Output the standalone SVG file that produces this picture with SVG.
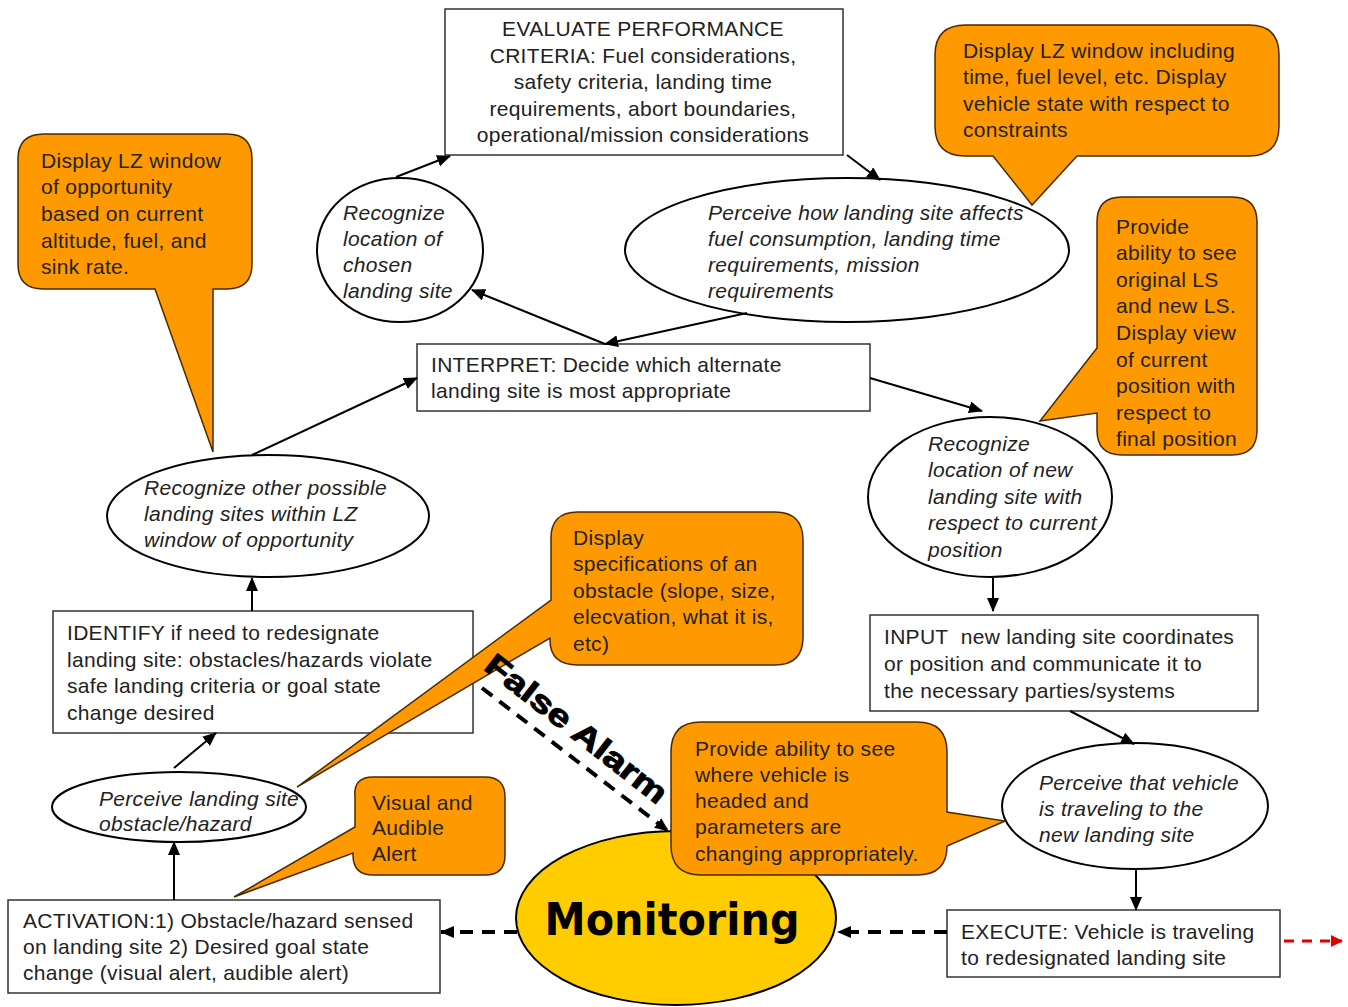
<svg xmlns="http://www.w3.org/2000/svg" width="1348" height="1007" viewBox="0 0 1348 1007">
<defs>
<style>
.t{font-family:"Liberation Sans",Arial,sans-serif;font-size:21px;letter-spacing:0.3px;fill:#222}
.i{font-style:italic}
.box{fill:#fff;stroke:#333;stroke-width:1.5}
.ell{fill:#fff;stroke:#000;stroke-width:2}
.call{fill:#FF9900;stroke:#4a2a00;stroke-width:1.5}
.ln{stroke:#000;stroke-width:2;fill:none}
.dash{stroke:#000;stroke-width:4;stroke-dasharray:13 9;fill:none}
.rdash{stroke:#e00000;stroke-width:3;stroke-dasharray:10 8;fill:none}
</style>
<marker id="ah" markerWidth="14" markerHeight="12" refX="13" refY="6" orient="auto" markerUnits="userSpaceOnUse"><path d="M0,0 L14,6 L0,12 Z" fill="#000"/></marker>
<marker id="ahr" markerWidth="12" markerHeight="12" refX="11" refY="6" orient="auto" markerUnits="userSpaceOnUse"><path d="M0,0 L12,6 L0,12 Z" fill="#e00000"/></marker>
</defs>
<rect width="1348" height="1007" fill="#fff"/>

<g id="evaluate">
<rect class="box" x="445" y="9" width="398" height="146"/>
<text class="t" x="643" y="36" text-anchor="middle"><tspan x="643">EVALUATE PERFORMANCE</tspan><tspan x="643" dy="26.5">CRITERIA: Fuel considerations,</tspan><tspan x="643" dy="26.5">safety criteria, landing time</tspan><tspan x="643" dy="26.5">requirements, abort boundaries,</tspan><tspan x="643" dy="26.5">operational/mission considerations</tspan></text>
</g>

<g id="recognize-chosen">
<ellipse class="ell" cx="400" cy="250" rx="83" ry="72"/>
<text class="t i" x="343" y="219.5"><tspan x="343">Recognize</tspan><tspan x="343" dy="26.3">location of</tspan><tspan x="343" dy="26.3">chosen</tspan><tspan x="343" dy="26.3">landing site</tspan></text>
</g>

<g id="perceive-affects">
<ellipse class="ell" cx="847" cy="250" rx="222" ry="72"/>
<text class="t i" x="708" y="220"><tspan x="708">Perceive how landing site affects</tspan><tspan x="708" dy="26">fuel consumption, landing time</tspan><tspan x="708" dy="26">requirements, mission</tspan><tspan x="708" dy="26">requirements</tspan></text>
</g>

<g id="interpret">
<rect class="box" x="417" y="344" width="453" height="67"/>
<text class="t" x="431" y="371.5"><tspan x="431">INTERPRET: Decide which alternate</tspan><tspan x="431" dy="26.5">landing site is most appropriate</tspan></text>
</g>

<g id="recognize-other">
<ellipse class="ell" cx="268" cy="516" rx="161" ry="61"/>
<text class="t i" x="144" y="494.5"><tspan x="144">Recognize other possible</tspan><tspan x="144" dy="26">landing sites within LZ</tspan><tspan x="144" dy="26">window of opportunity</tspan></text>
</g>

<g id="recognize-new">
<ellipse class="ell" cx="990" cy="497" rx="122" ry="80"/>
<text class="t i" x="928" y="450.5"><tspan x="928">Recognize</tspan><tspan x="928" dy="26.5">location of new</tspan><tspan x="928" dy="26.5">landing site with</tspan><tspan x="928" dy="26.5">respect to current</tspan><tspan x="928" dy="26.5">position</tspan></text>
</g>

<g id="identify">
<rect class="box" x="53" y="611" width="420" height="122"/>
<text class="t" x="67" y="640"><tspan x="67">IDENTIFY if need to redesignate</tspan><tspan x="67" dy="26.5">landing site: obstacles/hazards violate</tspan><tspan x="67" dy="26.5">safe landing criteria or goal state</tspan><tspan x="67" dy="26.5">change desired</tspan></text>
</g>

<g id="input">
<rect class="box" x="870" y="615" width="388" height="96"/>
<text class="t" x="884" y="643.5"><tspan x="884">INPUT&#160; new landing site coordinates</tspan><tspan x="884" dy="27">or position and communicate it to</tspan><tspan x="884" dy="27">the necessary parties/systems</tspan></text>
</g>

<g id="perceive-vehicle">
<ellipse class="ell" cx="1135" cy="806" rx="133" ry="63"/>
<text class="t i" x="1039" y="789.5"><tspan x="1039">Perceive that vehicle</tspan><tspan x="1039" dy="26">is traveling to the</tspan><tspan x="1039" dy="26">new landing site</tspan></text>
</g>

<g id="perceive-obstacle">
<ellipse class="ell" cx="179" cy="807" rx="127" ry="35"/>
<text class="t i" x="99" y="805.5"><tspan x="99">Perceive landing site</tspan><tspan x="99" dy="25.5">obstacle/hazard</tspan></text>
</g>

<g id="activation">
<rect class="box" x="8" y="900" width="432" height="93"/>
<text class="t" x="23" y="927.5"><tspan x="23">ACTIVATION:1) Obstacle/hazard sensed</tspan><tspan x="23" dy="26">on landing site 2) Desired goal state</tspan><tspan x="23" dy="26">change (visual alert, audible alert)</tspan></text>
</g>

<g id="execute">
<rect class="box" x="947" y="910" width="333" height="67"/>
<text class="t" x="961" y="938.5"><tspan x="961">EXECUTE: Vehicle is traveling</tspan><tspan x="961" dy="26">to redesignated landing site</tspan></text>
</g>

<g id="monitoring">
<ellipse cx="676" cy="918" rx="160" ry="87" fill="#FFCC00" stroke="#000" stroke-width="2"/>
<text x="672" y="935" text-anchor="middle" textLength="255" lengthAdjust="spacingAndGlyphs" style="font-family:'DejaVu Sans',sans-serif;font-size:44px;font-weight:bold;fill:#000">Monitoring</text>
</g>

<g id="callout-lz-window">
<path class="call" d="M44,134 H227 Q252,134 252,159 V264 Q252,289 227,289 H213 L213,452 L155,289 H43 Q18,289 18,264 V159 Q18,134 44,134 Z"/>
<text class="t" x="41" y="167.5"><tspan x="41">Display LZ window</tspan><tspan x="41" dy="26.7">of opportunity</tspan><tspan x="41" dy="26.7">based on current</tspan><tspan x="41" dy="26.7">altitude, fuel, and</tspan><tspan x="41" dy="26.7">sink rate.</tspan></text>
</g>

<g id="callout-lz-including">
<path class="call" d="M966,25 H1249 Q1279,25 1279,55 V126 Q1279,156 1249,156 H1077 L1032,205 L993,156 H965 Q935,156 935,126 V55 Q935,25 966,25 Z"/>
<text class="t" x="963" y="57.5"><tspan x="963">Display LZ window including</tspan><tspan x="963" dy="26.5">time, fuel level, etc. Display</tspan><tspan x="963" dy="26.5">vehicle state with respect to</tspan><tspan x="963" dy="26.5">constraints</tspan></text>
</g>

<g id="callout-original-ls">
<path class="call" d="M1122,197 H1232 Q1257,197 1257,222 V430 Q1257,455 1232,455 H1122 Q1097,455 1097,430 V413 L1040,421 L1097,348 V222 Q1097,197 1122,197 Z"/>
<text class="t" x="1116" y="233.5"><tspan x="1116">Provide</tspan><tspan x="1116" dy="26.6">ability to see</tspan><tspan x="1116" dy="26.6">original LS</tspan><tspan x="1116" dy="26.6">and new LS.</tspan><tspan x="1116" dy="26.6">Display view</tspan><tspan x="1116" dy="26.6">of current</tspan><tspan x="1116" dy="26.6">position with</tspan><tspan x="1116" dy="26.6">respect to</tspan><tspan x="1116" dy="26.6">final position</tspan></text>
</g>

<g id="callout-obstacle-specs">
<path class="call" d="M578,512 H775 Q803,512 803,540 V637 Q803,665 775,665 H578 Q550,665 550,640 V638 L297,787 L551,600 V540 Q550,512 578,512 Z"/>
<text class="t" x="573" y="544.5"><tspan x="573">Display</tspan><tspan x="573" dy="26.5">specifications of an</tspan><tspan x="573" dy="26.5">obstacle (slope, size,</tspan><tspan x="573" dy="26.5">elecvation, what it is,</tspan><tspan x="573" dy="26.5">etc)</tspan></text>
</g>

<g id="callout-alert">
<path class="call" d="M373,777 H485 Q505,777 505,797 V855 Q505,875 485,875 H373 Q353,875 353,855 V853 L234,897 L355,827 V797 Q353,777 373,777 Z"/>
<text class="t" x="372" y="809.5"><tspan x="372">Visual and</tspan><tspan x="372" dy="25.5">Audible</tspan><tspan x="372" dy="25.5">Alert</tspan></text>
</g>

<g id="callout-headed">
<path class="call" d="M701,722 H917 Q947,722 947,752 V812 L1005,821 L947,846 Q947,875 917,875 H701 Q671,875 671,845 V752 Q671,722 701,722 Z"/>
<text class="t" x="695" y="755.5"><tspan x="695">Provide ability to see</tspan><tspan x="695" dy="26.3">where vehicle is</tspan><tspan x="695" dy="26.3">headed and</tspan><tspan x="695" dy="26.3">parameters are</tspan><tspan x="695" dy="26.3">changing appropriately.</tspan></text>
</g>

<g id="connectors">
<line class="ln" x1="396" y1="177" x2="450" y2="156" marker-end="url(#ah)"/>
<line class="ln" x1="847" y1="155" x2="880" y2="180" marker-end="url(#ah)"/>
<line class="ln" x1="605" y1="344" x2="472" y2="290" marker-end="url(#ah)"/>
<line class="ln" x1="747" y1="313" x2="605" y2="344" marker-end="url(#ah)"/>
<line class="ln" x1="252" y1="455" x2="417" y2="378" marker-end="url(#ah)"/>
<line class="ln" x1="870" y1="378" x2="982" y2="411" marker-end="url(#ah)"/>
<line class="ln" x1="252" y1="611" x2="252" y2="578" marker-end="url(#ah)"/>
<line class="ln" x1="993" y1="578" x2="993" y2="611" marker-end="url(#ah)"/>
<line class="ln" x1="1070" y1="711" x2="1134" y2="744" marker-end="url(#ah)"/>
<line class="ln" x1="1136" y1="869" x2="1136" y2="910" marker-end="url(#ah)"/>
<line class="ln" x1="174" y1="900" x2="174" y2="842" marker-end="url(#ah)"/>
<line class="ln" x1="174" y1="768" x2="216" y2="733" marker-end="url(#ah)"/>
<line class="dash" x1="482" y1="688" x2="668" y2="831" marker-end="url(#ah)"/>
<line class="dash" x1="947" y1="932" x2="838" y2="932" marker-end="url(#ah)"/>
<line class="dash" x1="517" y1="932" x2="441" y2="932" marker-end="url(#ah)"/>
<line class="rdash" x1="1284" y1="941" x2="1342" y2="941" marker-end="url(#ahr)"/>
<text x="570" y="737" transform="rotate(38 570 737)" text-anchor="middle" textLength="222" lengthAdjust="spacingAndGlyphs" style="font-family:'Liberation Sans',Arial,sans-serif;font-size:31px;font-weight:bold;fill:#000;stroke:#000;stroke-width:1">False Alarm</text>
</g>
</svg>
